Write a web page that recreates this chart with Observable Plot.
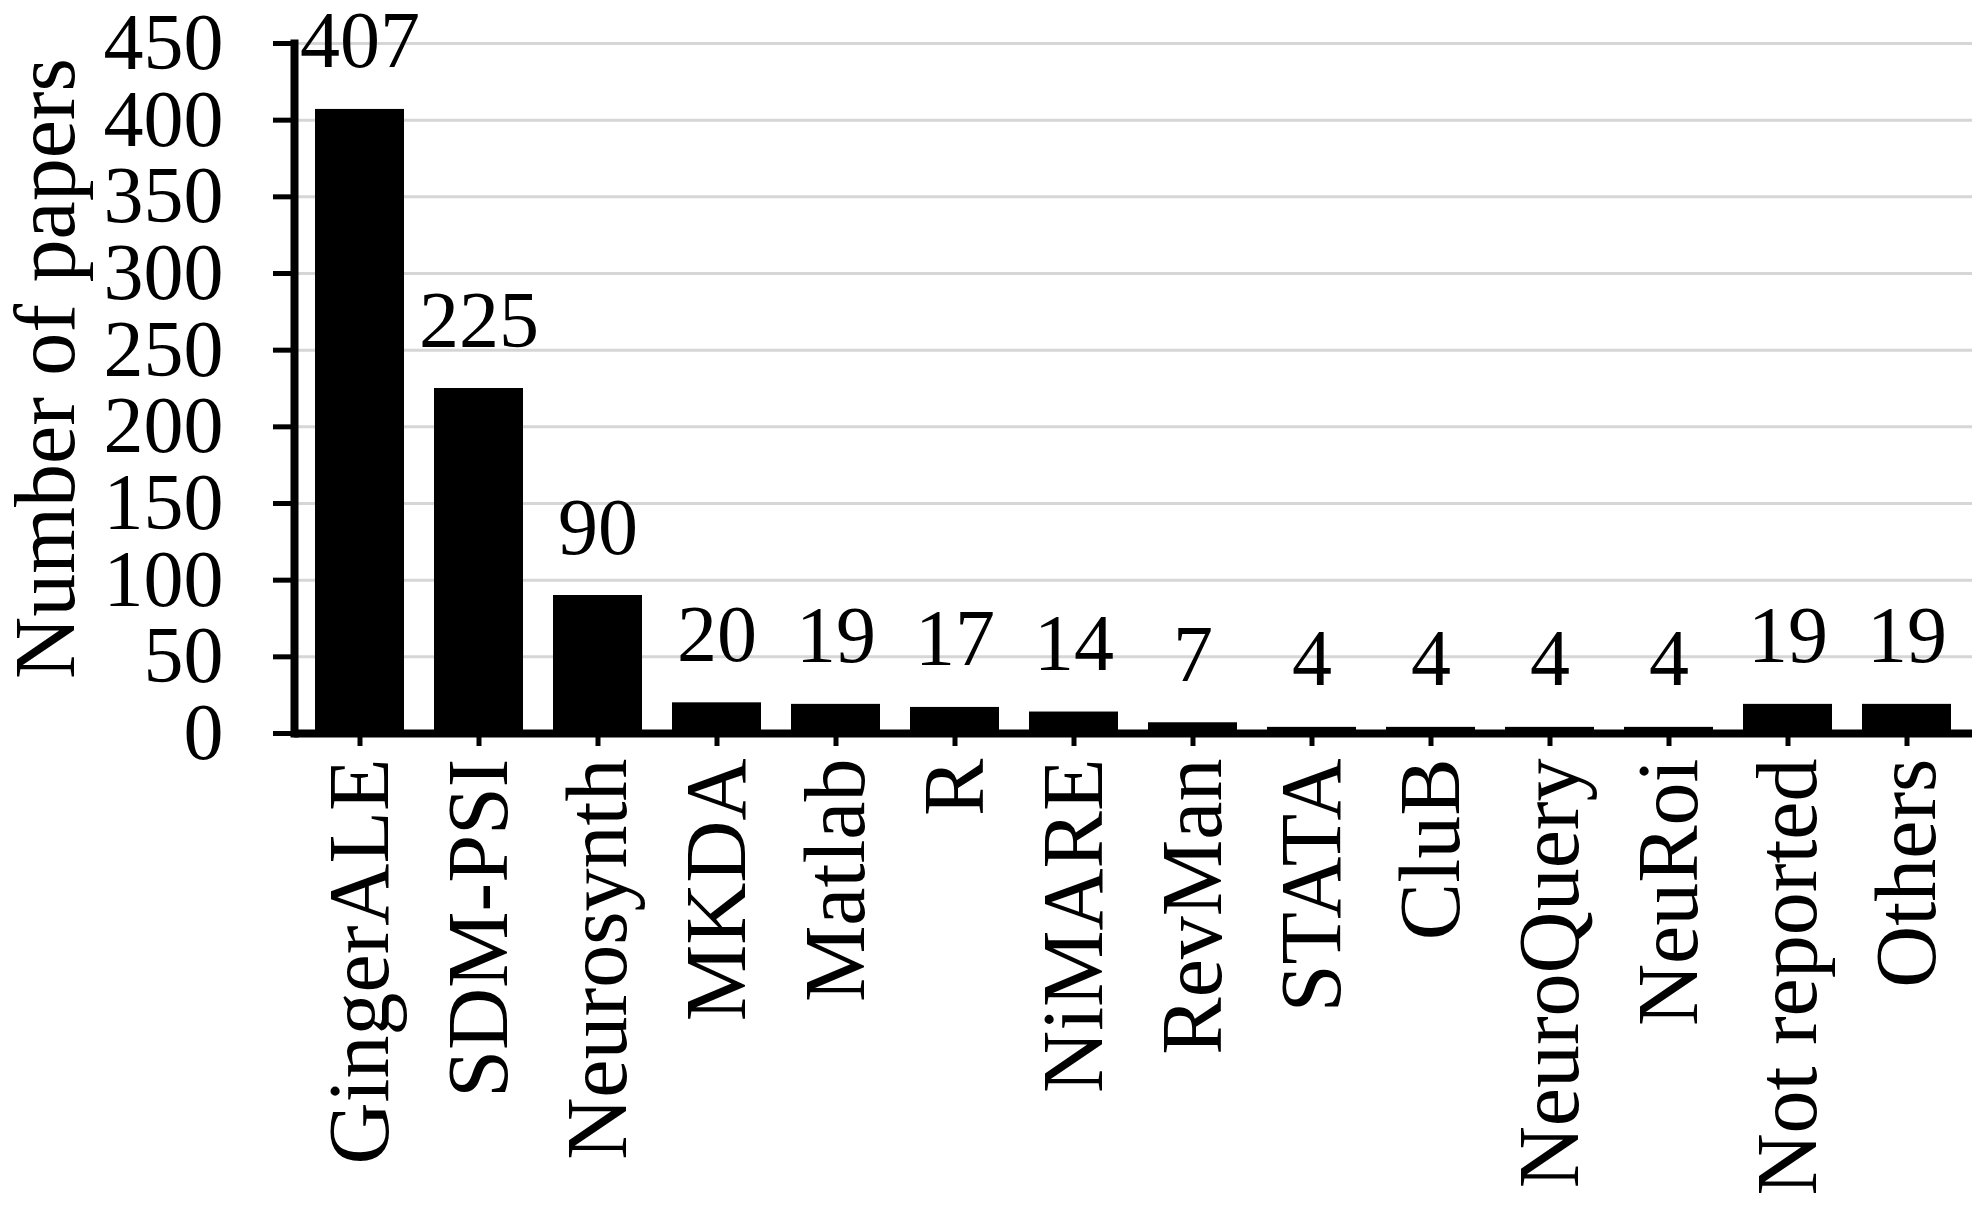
<!DOCTYPE html>
<html>
<head>
<meta charset="utf-8">
<script src="https://cdn.jsdelivr.net/npm/d3@7"></script>
<script src="https://cdn.jsdelivr.net/npm/@observablehq/plot@0.6"></script>
<style>
  html, body { margin: 0; padding: 0; background: #fff; }
  #chart svg { display: block; }
</style>
</head>
<body>
<div id="chart"></div>
<script>
const categories = ["GingerALE", "SDM-PSI", "Neurosynth", "MKDA", "Matlab", "R", "NiMARE", "RevMan", "STATA", "CluB", "NeuroQuery", "NeuRoi", "Not reported", "Others"];
const papers = [407, 225, 90, 20, 19, 17, 14, 7, 4, 4, 4, 4, 19, 19];
const yTicks = [0, 50, 100, 150, 200, 250, 300, 350, 400, 450];
const yTitle = "Number of papers";

const data = categories.map((name, i) => ({name, value: papers[i]}));
const font = "'Liberation Serif', 'Times New Roman', serif";

const chart = Plot.plot({
  width: 1983,
  height: 1210,
  marginLeft: 294,
  marginRight: 11,
  marginTop: 43,
  marginBottom: 477,
  style: {fontFamily: font, color: "#000", background: "#fff"},
  x: {domain: categories, paddingInner: 0.25, paddingOuter: 0.125, label: null},
  y: {domain: [0, 450], label: null},
  marks: [
    Plot.gridY(yTicks, {stroke: "#d6d6d6", strokeOpacity: 1, strokeWidth: 3}),
    Plot.barY(data, {x: "name", y: "value", fill: "#000"}),
    Plot.ruleY([0], {stroke: "#000", strokeWidth: 8}),
    Plot.frame({anchor: "left", stroke: "#000", strokeWidth: 8}),
    Plot.axisY(yTicks, {tickSize: 21, strokeWidth: 5, tickPadding: 50, fontSize: 80, fontFamily: font, label: null}),
    Plot.axisX({tickSize: 13, strokeWidth: 5, tickRotate: -90, tickPadding: 12, fontSize: 86, fontFamily: font, label: null}),
    Plot.text(data, {x: "name", y: "value", text: d => String(d.value), lineAnchor: "bottom", dy: -42, fontSize: 80, fontFamily: font, fill: "#000"}),
    Plot.text([yTitle], {frameAnchor: "left", textAnchor: "middle", rotate: -90, dx: -248, dy: -20, fontSize: 86, fontFamily: font, fill: "#000"})
  ]
});
document.getElementById("chart").appendChild(chart);
</script>
</body>
</html>
